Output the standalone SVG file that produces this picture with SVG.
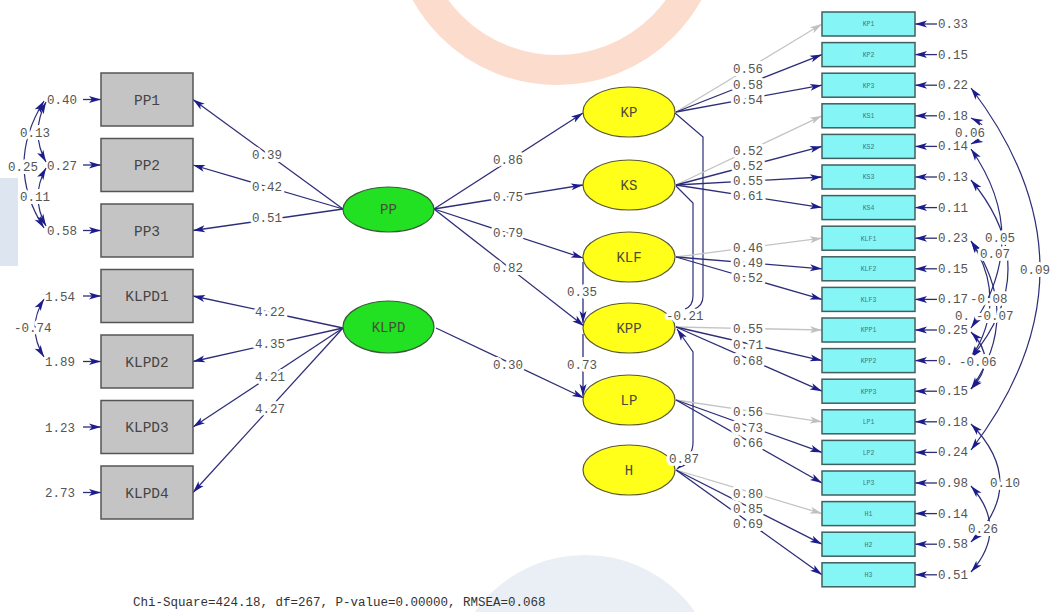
<svg xmlns="http://www.w3.org/2000/svg" width="1050" height="612" viewBox="0 0 1050 612">
<style>
.p{stroke:#2e2e78;stroke-width:1.3;fill:none}
.g{stroke:#c4c4c4;stroke-width:1.3;fill:none}
.c{stroke:#2e2e78;stroke-width:1.2;fill:none}
.lb{font-family:"Liberation Mono",monospace;font-size:12.5px;fill:#555;stroke:#fff;stroke-width:6px;paint-order:stroke;stroke-linejoin:round}
.ev{font-family:"Liberation Mono",monospace;font-size:12.5px;fill:#555}
.bx{fill:#c4c4c4;stroke:#555;stroke-width:1.5}
.cy{fill:#86f5f5;stroke:#3f5f60;stroke-width:1.5}
.bt{font-family:"Liberation Mono",monospace;font-size:14.5px;fill:#444;text-anchor:middle}
.st{font-family:"Liberation Mono",monospace;font-size:6.5px;fill:#3d7a85;text-anchor:middle}
.gr{fill:#22e022;stroke:#3a5a3a;stroke-width:1.2}
.ye{fill:#ffff1a;stroke:#5a5a30;stroke-width:1.2}
.et{font-family:"Liberation Mono",monospace;font-size:14px;fill:#4a4a3a;text-anchor:middle}
</style>
<defs>
<marker id="ah" viewBox="-13 -4 14 8" refX="0" refY="0" markerWidth="14" markerHeight="8" markerUnits="userSpaceOnUse" orient="auto-start-reverse"><path d="M0,0 L-12,-3.5 L-9,0 L-12,3.5 Z" fill="#1c1c8c"/></marker>
<marker id="ahg" viewBox="-13 -4 14 8" refX="0" refY="0" markerWidth="14" markerHeight="8" markerUnits="userSpaceOnUse" orient="auto-start-reverse"><path d="M0,0 L-12,-3.5 L-9,0 L-12,3.5 Z" fill="#c0c0c0"/></marker>
</defs>
<rect width="1050" height="612" fill="#fff"/>
<g id="watermark">
<circle cx="557" cy="-80" r="150" fill="none" stroke="#fbdccd" stroke-width="30"/>
<circle cx="585" cy="690" r="135" fill="#eaeef5"/>
<rect x="0" y="178" width="18" height="88" fill="#dde5f0"/>
</g>
<g id="connectors">
<line class="p" x1="343" y1="209" x2="193" y2="99.5" marker-end="url(#ah)"/>
<line class="p" x1="343" y1="209" x2="193" y2="165" marker-end="url(#ah)"/>
<line class="p" x1="343" y1="209" x2="193" y2="230.5" marker-end="url(#ah)"/>
<line class="p" x1="343" y1="328" x2="193" y2="296" marker-end="url(#ah)"/>
<line class="p" x1="343" y1="328" x2="193" y2="361.5" marker-end="url(#ah)"/>
<line class="p" x1="343" y1="328" x2="193" y2="427" marker-end="url(#ah)"/>
<line class="p" x1="343" y1="328" x2="193" y2="492.5" marker-end="url(#ah)"/>
<line class="p" x1="83" y1="99.5" x2="101" y2="99.5" marker-end="url(#ah)"/>
<line class="p" x1="83" y1="165" x2="101" y2="165" marker-end="url(#ah)"/>
<line class="p" x1="83" y1="230.5" x2="101" y2="230.5" marker-end="url(#ah)"/>
<line class="p" x1="83" y1="296" x2="101" y2="296" marker-end="url(#ah)"/>
<line class="p" x1="83" y1="361.5" x2="101" y2="361.5" marker-end="url(#ah)"/>
<line class="p" x1="83" y1="427" x2="101" y2="427" marker-end="url(#ah)"/>
<line class="p" x1="83" y1="492.5" x2="101" y2="492.5" marker-end="url(#ah)"/>
<path class="c" d="M46,102 Q30,133 46,162" marker-start="url(#ah)" marker-end="url(#ah)"/>
<path class="c" d="M44,101 Q4,165 44,228" marker-start="url(#ah)" marker-end="url(#ah)"/>
<path class="c" d="M46,168 Q30,197 46,226" marker-start="url(#ah)" marker-end="url(#ah)"/>
<path class="c" d="M44,299 Q26,328 44,357" marker-start="url(#ah)" marker-end="url(#ah)"/>
<line class="p" x1="434" y1="209" x2="583" y2="113" marker-end="url(#ah)"/>
<line class="p" x1="434" y1="209" x2="583" y2="185" marker-end="url(#ah)"/>
<line class="p" x1="434" y1="209" x2="583" y2="258" marker-end="url(#ah)"/>
<line class="p" x1="434" y1="209" x2="584" y2="326" marker-end="url(#ah)"/>
<line class="p" x1="436" y1="328" x2="584" y2="398" marker-end="url(#ah)"/>
<line class="p" x1="583" y1="262" x2="583" y2="323" marker-end="url(#ah)"/>
<line class="p" x1="583" y1="334" x2="583" y2="396" marker-end="url(#ah)"/>
<path class="c" d="M675,113 L703,137 L703,296 Q703,306 694,309"/>
<path class="c" d="M676,186 L693,203 L693,296 Q693,306 685,309"/>
<path class="c" d="M677,329 L693,352 L693,443 Q693,456 677,469" marker-start="url(#ah)" marker-end="url(#ah)"/>
<line class="g" x1="676" y1="112" x2="822" y2="24" marker-end="url(#ahg)"/>
<line class="p" x1="676" y1="112" x2="822" y2="54.6" marker-end="url(#ah)"/>
<line class="p" x1="676" y1="112" x2="822" y2="85.2" marker-end="url(#ah)"/>
<line class="g" x1="676" y1="185" x2="822" y2="115.8" marker-end="url(#ahg)"/>
<line class="p" x1="676" y1="185" x2="822" y2="146.4" marker-end="url(#ah)"/>
<line class="p" x1="676" y1="185" x2="822" y2="177" marker-end="url(#ah)"/>
<line class="p" x1="676" y1="185" x2="822" y2="207.6" marker-end="url(#ah)"/>
<line class="g" x1="676" y1="257" x2="822" y2="238.2" marker-end="url(#ahg)"/>
<line class="p" x1="676" y1="257" x2="822" y2="268.8" marker-end="url(#ah)"/>
<line class="p" x1="676" y1="257" x2="822" y2="299.4" marker-end="url(#ah)"/>
<line class="g" x1="676" y1="327" x2="822" y2="330" marker-end="url(#ahg)"/>
<line class="p" x1="676" y1="327" x2="822" y2="360.6" marker-end="url(#ah)"/>
<line class="p" x1="676" y1="327" x2="822" y2="391.2" marker-end="url(#ah)"/>
<line class="g" x1="676" y1="400" x2="822" y2="421.8" marker-end="url(#ahg)"/>
<line class="p" x1="676" y1="400" x2="822" y2="452.4" marker-end="url(#ah)"/>
<line class="p" x1="676" y1="400" x2="822" y2="483" marker-end="url(#ah)"/>
<line class="g" x1="676" y1="470" x2="822" y2="513.6" marker-end="url(#ahg)"/>
<line class="p" x1="676" y1="470" x2="822" y2="544.2" marker-end="url(#ah)"/>
<line class="p" x1="676" y1="470" x2="822" y2="574.8" marker-end="url(#ah)"/>
<line class="p" x1="937" y1="24" x2="915" y2="24" marker-end="url(#ah)"/>
<line class="p" x1="937" y1="54.6" x2="915" y2="54.6" marker-end="url(#ah)"/>
<line class="p" x1="937" y1="85.2" x2="915" y2="85.2" marker-end="url(#ah)"/>
<line class="p" x1="937" y1="115.8" x2="915" y2="115.8" marker-end="url(#ah)"/>
<line class="p" x1="937" y1="146.4" x2="915" y2="146.4" marker-end="url(#ah)"/>
<line class="p" x1="937" y1="177" x2="915" y2="177" marker-end="url(#ah)"/>
<line class="p" x1="937" y1="207.6" x2="915" y2="207.6" marker-end="url(#ah)"/>
<line class="p" x1="937" y1="238.2" x2="915" y2="238.2" marker-end="url(#ah)"/>
<line class="p" x1="937" y1="268.8" x2="915" y2="268.8" marker-end="url(#ah)"/>
<line class="p" x1="937" y1="299.4" x2="915" y2="299.4" marker-end="url(#ah)"/>
<line class="p" x1="937" y1="330" x2="915" y2="330" marker-end="url(#ah)"/>
<line class="p" x1="937" y1="360.6" x2="915" y2="360.6" marker-end="url(#ah)"/>
<line class="p" x1="937" y1="391.2" x2="915" y2="391.2" marker-end="url(#ah)"/>
<line class="p" x1="937" y1="421.8" x2="915" y2="421.8" marker-end="url(#ah)"/>
<line class="p" x1="937" y1="452.4" x2="915" y2="452.4" marker-end="url(#ah)"/>
<line class="p" x1="937" y1="483" x2="915" y2="483" marker-end="url(#ah)"/>
<line class="p" x1="937" y1="513.6" x2="915" y2="513.6" marker-end="url(#ah)"/>
<line class="p" x1="937" y1="544.2" x2="915" y2="544.2" marker-end="url(#ah)"/>
<line class="p" x1="937" y1="574.8" x2="915" y2="574.8" marker-end="url(#ah)"/>
<path class="c" d="M971,118 Q999,131 971,144" marker-start="url(#ah)" marker-end="url(#ah)"/>
<path class="c" d="M971,88 Q1109,269 971,450" marker-start="url(#ah)" marker-end="url(#ah)"/>
<path class="c" d="M971,149 Q1033,238 971,328" marker-start="url(#ah)" marker-end="url(#ah)"/>
<path class="c" d="M971,180 Q1045,269 971,358" marker-start="url(#ah)" marker-end="url(#ah)"/>
<path class="c" d="M971,241 Q1009,300 971,358" marker-start="url(#ah)" marker-end="url(#ah)"/>
<path class="c" d="M971,241 Q1023,315 971,389" marker-start="url(#ah)" marker-end="url(#ah)"/>
<path class="c" d="M971,332 Q999,360 971,389" marker-start="url(#ah)" marker-end="url(#ah)"/>
<path class="c" d="M971,424 Q1029,483 971,542" marker-start="url(#ah)" marker-end="url(#ah)"/>
<path class="c" d="M971,486 Q1009,529 971,572" marker-start="url(#ah)" marker-end="url(#ah)"/>
</g>
<g id="PP1"><rect class="bx" x="101" y="73" width="92" height="53"/><text class="bt" x="147" y="104.5">PP1</text></g>
<g id="PP2"><rect class="bx" x="101" y="138.5" width="92" height="53"/><text class="bt" x="147" y="170">PP2</text></g>
<g id="PP3"><rect class="bx" x="101" y="204" width="92" height="53"/><text class="bt" x="147" y="235.5">PP3</text></g>
<g id="KLPD1"><rect class="bx" x="101" y="269.5" width="92" height="53"/><text class="bt" x="147" y="301">KLPD1</text></g>
<g id="KLPD2"><rect class="bx" x="101" y="335" width="92" height="53"/><text class="bt" x="147" y="366.5">KLPD2</text></g>
<g id="KLPD3"><rect class="bx" x="101" y="400.5" width="92" height="53"/><text class="bt" x="147" y="432">KLPD3</text></g>
<g id="KLPD4"><rect class="bx" x="101" y="466" width="92" height="53"/><text class="bt" x="147" y="497.5">KLPD4</text></g>
<g id="PP"><ellipse class="gr" cx="388.5" cy="209.5" rx="45.5" ry="22.5"/><text class="et" x="388.5" y="214">PP</text></g>
<g id="KLPD"><ellipse class="gr" cx="388.5" cy="327" rx="45.5" ry="26"/><text class="et" x="388.5" y="332">KLPD</text></g>
<g id="KP"><ellipse class="ye" cx="629" cy="112" rx="46" ry="25"/><text class="et" x="629" y="117">KP</text></g>
<g id="KS"><ellipse class="ye" cx="629" cy="185" rx="46" ry="25"/><text class="et" x="629" y="190">KS</text></g>
<g id="KLF"><ellipse class="ye" cx="629" cy="257" rx="46" ry="25"/><text class="et" x="629" y="262">KLF</text></g>
<g id="KPP"><ellipse class="ye" cx="629" cy="328" rx="46" ry="25"/><text class="et" x="629" y="333">KPP</text></g>
<g id="LP"><ellipse class="ye" cx="629" cy="400" rx="46" ry="25"/><text class="et" x="629" y="405">LP</text></g>
<g id="H"><ellipse class="ye" cx="629" cy="470" rx="46" ry="25"/><text class="et" x="629" y="475">H</text></g>
<g id="KP1"><rect class="cy" x="822" y="12" width="93" height="24"/><text class="st" x="868.5" y="26.3">KP1</text></g>
<g id="KP2"><rect class="cy" x="822" y="42.6" width="93" height="24"/><text class="st" x="868.5" y="56.9">KP2</text></g>
<g id="KP3"><rect class="cy" x="822" y="73.2" width="93" height="24"/><text class="st" x="868.5" y="87.5">KP3</text></g>
<g id="KS1"><rect class="cy" x="822" y="103.8" width="93" height="24"/><text class="st" x="868.5" y="118.1">KS1</text></g>
<g id="KS2"><rect class="cy" x="822" y="134.4" width="93" height="24"/><text class="st" x="868.5" y="148.7">KS2</text></g>
<g id="KS3"><rect class="cy" x="822" y="165" width="93" height="24"/><text class="st" x="868.5" y="179.3">KS3</text></g>
<g id="KS4"><rect class="cy" x="822" y="195.6" width="93" height="24"/><text class="st" x="868.5" y="209.9">KS4</text></g>
<g id="KLF1"><rect class="cy" x="822" y="226.2" width="93" height="24"/><text class="st" x="868.5" y="240.5">KLF1</text></g>
<g id="KLF2"><rect class="cy" x="822" y="256.8" width="93" height="24"/><text class="st" x="868.5" y="271.1">KLF2</text></g>
<g id="KLF3"><rect class="cy" x="822" y="287.4" width="93" height="24"/><text class="st" x="868.5" y="301.7">KLF3</text></g>
<g id="KPP1"><rect class="cy" x="822" y="318" width="93" height="24"/><text class="st" x="868.5" y="332.3">KPP1</text></g>
<g id="KPP2"><rect class="cy" x="822" y="348.6" width="93" height="24"/><text class="st" x="868.5" y="362.9">KPP2</text></g>
<g id="KPP3"><rect class="cy" x="822" y="379.2" width="93" height="24"/><text class="st" x="868.5" y="393.5">KPP3</text></g>
<g id="LP1"><rect class="cy" x="822" y="409.8" width="93" height="24"/><text class="st" x="868.5" y="424.1">LP1</text></g>
<g id="LP2"><rect class="cy" x="822" y="440.4" width="93" height="24"/><text class="st" x="868.5" y="454.7">LP2</text></g>
<g id="LP3"><rect class="cy" x="822" y="471" width="93" height="24"/><text class="st" x="868.5" y="485.3">LP3</text></g>
<g id="H1"><rect class="cy" x="822" y="501.6" width="93" height="24"/><text class="st" x="868.5" y="515.9">H1</text></g>
<g id="H2"><rect class="cy" x="822" y="532.2" width="93" height="24"/><text class="st" x="868.5" y="546.5">H2</text></g>
<g id="H3"><rect class="cy" x="822" y="562.8" width="93" height="24"/><text class="st" x="868.5" y="577.1">H3</text></g>
<g id="labels">
<text class="lb" x="252" y="159">0.39</text>
<text class="lb" x="252" y="191">0.42</text>
<text class="lb" x="252" y="222">0.51</text>
<text class="lb" x="255" y="316">4.22</text>
<text class="lb" x="255" y="348">4.35</text>
<text class="lb" x="255" y="381">4.21</text>
<text class="lb" x="255" y="413">4.27</text>
<text class="lb" x="493" y="164">0.86</text>
<text class="lb" x="493" y="201">0.75</text>
<text class="lb" x="493" y="237">0.79</text>
<text class="lb" x="493" y="272">0.82</text>
<text class="lb" x="493" y="369">0.30</text>
<text class="lb" x="567" y="296">0.35</text>
<text class="lb" x="567" y="369">0.73</text>
<text class="lb" x="666" y="320">-0.21</text>
<text class="lb" x="669" y="463">0.87</text>
<text class="lb" x="733" y="73">0.56</text>
<text class="lb" x="733" y="89">0.58</text>
<text class="lb" x="733" y="104">0.54</text>
<text class="lb" x="733" y="155">0.52</text>
<text class="lb" x="733" y="170">0.52</text>
<text class="lb" x="733" y="185">0.55</text>
<text class="lb" x="733" y="200">0.61</text>
<text class="lb" x="733" y="252">0.46</text>
<text class="lb" x="733" y="267">0.49</text>
<text class="lb" x="733" y="282">0.52</text>
<text class="lb" x="733" y="333">0.55</text>
<text class="lb" x="733" y="349">0.71</text>
<text class="lb" x="733" y="365">0.68</text>
<text class="lb" x="733" y="416">0.56</text>
<text class="lb" x="733" y="432">0.73</text>
<text class="lb" x="733" y="447">0.66</text>
<text class="lb" x="733" y="498">0.80</text>
<text class="lb" x="733" y="513">0.85</text>
<text class="lb" x="733" y="528">0.69</text>
<text class="lb" x="20" y="137">0.13</text>
<text class="lb" x="8" y="171">0.25</text>
<text class="lb" x="20" y="201">0.11</text>
<text class="lb" x="14" y="332">-0.74</text>
<text class="lb" x="955" y="137">0.06</text>
<text class="lb" x="985" y="242">0.05</text>
<text class="lb" x="980" y="258">0.07</text>
<text class="lb" x="1020" y="274">0.09</text>
<text class="lb" x="970" y="303">-0.08</text>
<text class="lb" x="955" y="320">0.</text>
<text class="lb" x="976" y="320">-0.07</text>
<text class="lb" x="959" y="366">-0.06</text>
<text class="lb" x="990" y="487">0.10</text>
<text class="lb" x="968" y="533">0.26</text>
<text class="ev" x="47" y="104">0.40</text>
<text class="ev" x="47" y="169.5">0.27</text>
<text class="ev" x="47" y="235">0.58</text>
<text class="ev" x="45" y="300.5">1.54</text>
<text class="ev" x="45" y="366">1.89</text>
<text class="ev" x="45" y="431.5">1.23</text>
<text class="ev" x="45" y="497">2.73</text>
<text class="ev" x="938" y="28">0.33</text>
<text class="ev" x="938" y="58.6">0.15</text>
<text class="ev" x="938" y="89.2">0.22</text>
<text class="ev" x="938" y="119.8">0.18</text>
<text class="ev" x="938" y="150.4">0.14</text>
<text class="ev" x="938" y="181">0.13</text>
<text class="ev" x="938" y="211.6">0.11</text>
<text class="ev" x="938" y="242.2">0.23</text>
<text class="ev" x="938" y="272.8">0.15</text>
<text class="ev" x="938" y="303.4">0.17</text>
<text class="ev" x="938" y="334">0.25</text>
<text class="ev" x="938" y="364.6">0.</text>
<text class="ev" x="938" y="395.2">0.15</text>
<text class="ev" x="938" y="425.8">0.18</text>
<text class="ev" x="938" y="456.4">0.24</text>
<text class="ev" x="938" y="487">0.98</text>
<text class="ev" x="938" y="517.6">0.14</text>
<text class="ev" x="938" y="548.2">0.58</text>
<text class="ev" x="938" y="578.8">0.51</text>
<text x="133" y="606" font-family="Liberation Mono,monospace" font-size="12.5" fill="#333">Chi-Square=424.18, df=267, P-value=0.00000, RMSEA=0.068</text>
</g>
</svg>
